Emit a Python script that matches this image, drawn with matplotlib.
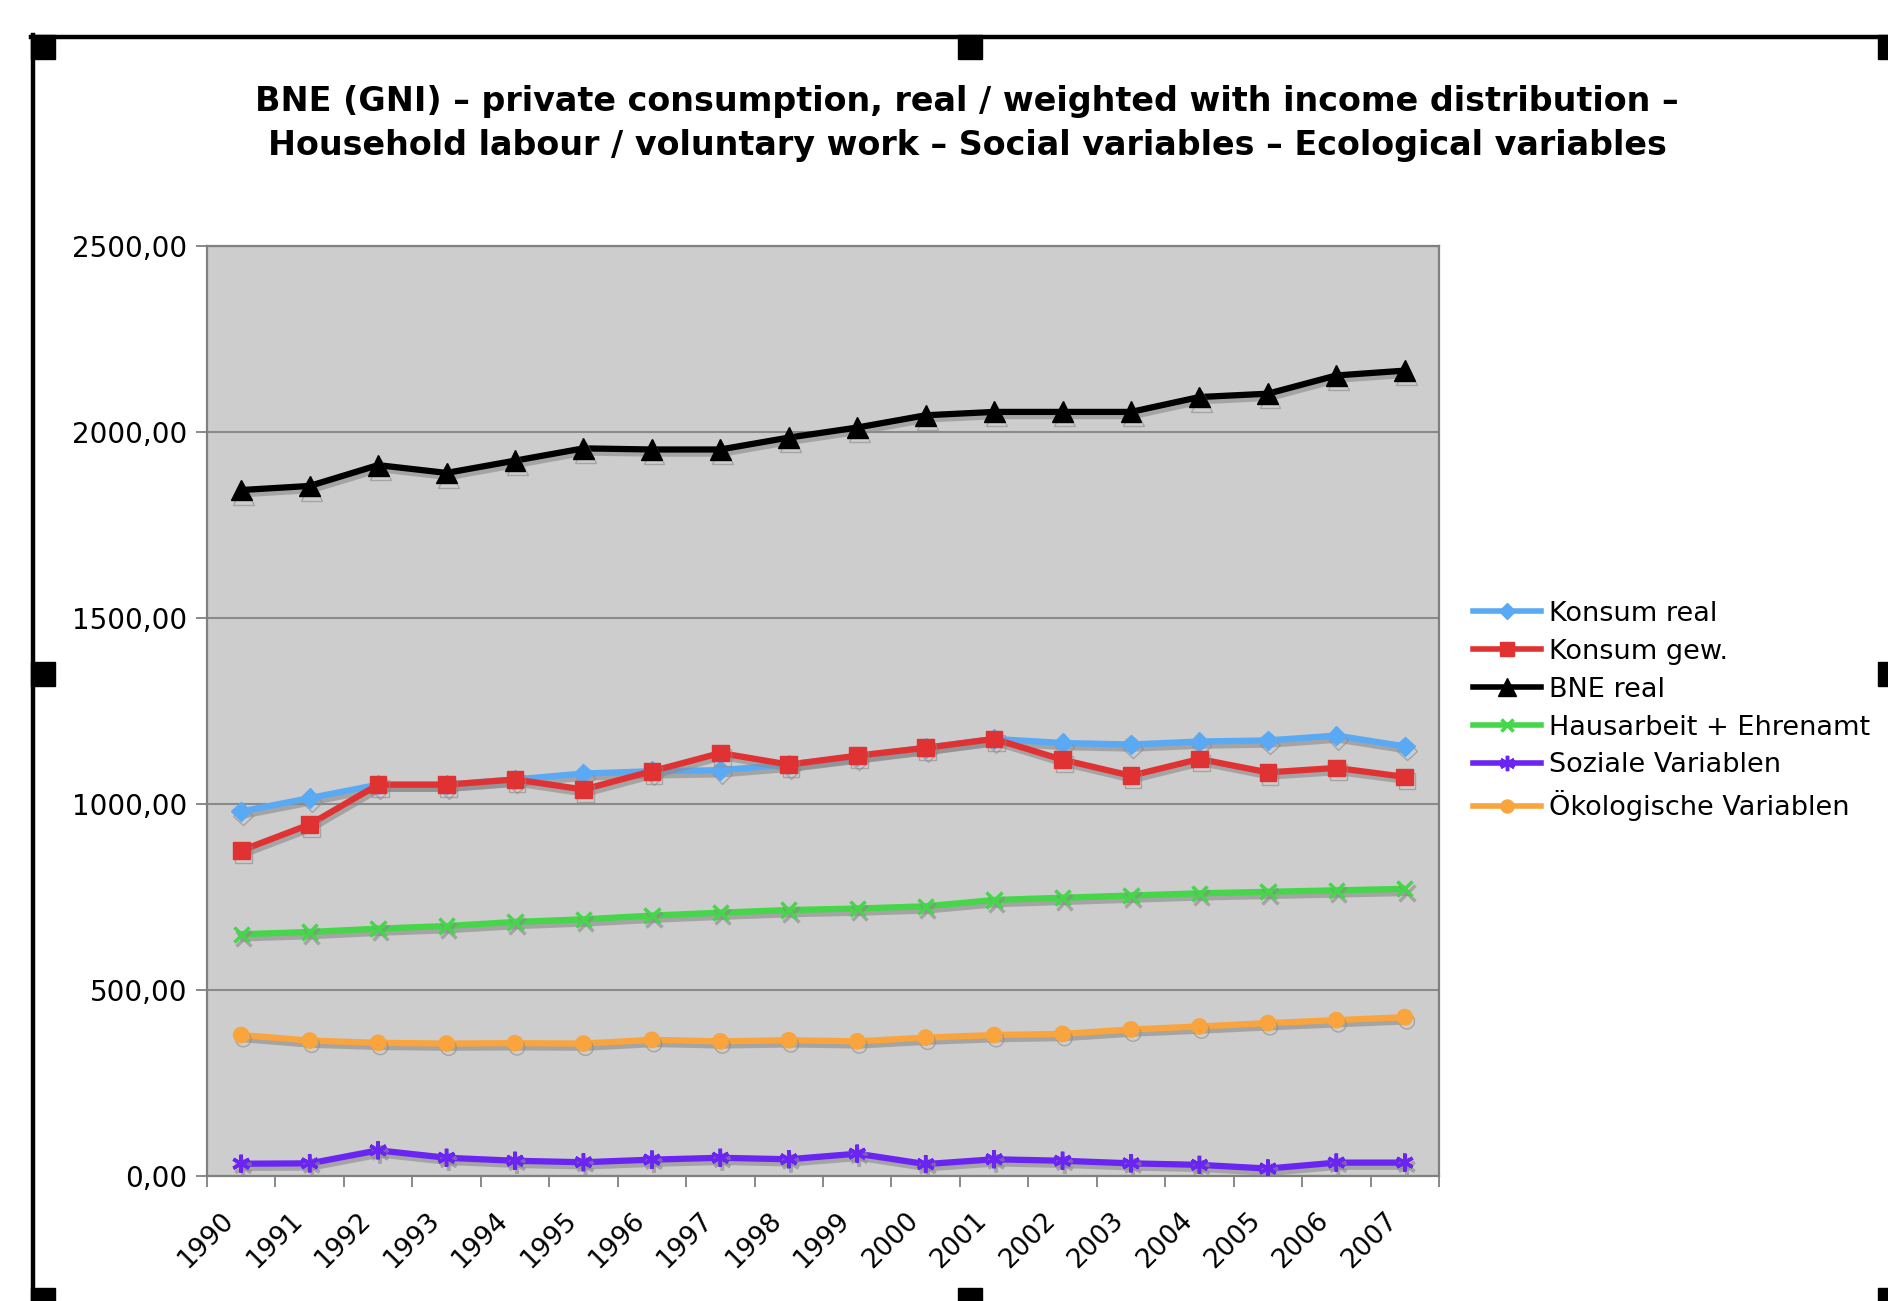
import matplotlib
matplotlib.use("Agg")
import matplotlib.pyplot as plt
import matplotlib.patheffects as pe
from matplotlib.lines import Line2D
from matplotlib.patches import Rectangle
from matplotlib.ticker import FuncFormatter

# data
years = [str(y) for y in range(1990, 2008)]

konsum_real = [980, 1016, 1052, 1052, 1066, 1082, 1088, 1091, 1106, 1128,
               1151, 1175, 1164, 1160, 1168, 1171, 1184, 1155]
konsum_gew = [875, 945, 1052, 1052, 1066, 1039, 1088, 1137, 1106, 1130,
              1151, 1175, 1119, 1076, 1121, 1085, 1097, 1073]
bne_real = [1844, 1855, 1911, 1890, 1923, 1956, 1953, 1953, 1985, 2012,
            2045, 2054, 2054, 2054, 2094, 2103, 2152, 2165]
hausarbeit = [650, 656, 665, 672, 683, 690, 700, 708, 715, 719,
              725, 742, 748, 754, 760, 764, 768, 772]
soziale = [33, 34, 69, 49, 41, 37, 44, 49, 45, 60,
           32, 45, 41, 34, 30, 20, 36, 36]
oekologische = [379, 364, 358, 356, 357, 356, 366, 362, 365, 362,
                372, 379, 382, 394, 402, 411, 419, 427]

series_names = ["Konsum real", "Konsum gew.", "BNE real",
                "Hausarbeit + Ehrenamt", "Soziale Variablen", "Ökologische Variablen"]
series_values = [konsum_real, konsum_gew, bne_real, hausarbeit, soziale, oekologische]
colors = ["#5aa9f4", "#e03232", "#000000", "#45d64a", "#6a25f2", "#f9a43c"]
markers = ["D", "s", "^", "x", (6, 2, 0), "o"]
msizes = [10, 12, 15, 11, 13, 11]

W, H = 1888, 1301
fig = plt.figure(figsize=(W / 100, H / 100), dpi=100)
fig.patch.set_facecolor("white")

ax = fig.add_axes([207 / W, 1 - 1176 / H, (1439 - 207) / W, (1176 - 246) / H])
ax.set_facecolor("#cdcdcd")

x = [i + 0.5 for i in range(len(years))]
shadow = [pe.SimpleLineShadow(offset=(1.5, -3), shadow_color="#8a8a8a", alpha=0.6),
          pe.Normal()]

handles = []
for name, vals, c, m, ms in zip(series_names, series_values, colors, markers, msizes):
    mew = 2.5 if m in ("x", (6, 2, 0)) else 1
    ax.plot(x, vals, color=c, lw=4.5, marker=m, ms=ms, mec=c, mfc=c,
            mew=mew, zorder=3, path_effects=shadow)
    handles.append(Line2D([], [], color=c, lw=4, marker=m, mec=c, mfc=c,
                          ms=ms * 0.85, mew=mew))

ax.set_xlim(0, len(years))
ax.set_ylim(0, 2500)
ax.set_yticks([0, 500, 1000, 1500, 2000, 2500])
ax.yaxis.set_major_formatter(FuncFormatter(lambda v, p: f"{v:.2f}".replace(".", ",")))
ax.grid(axis="y", color="#8a8a8a", lw=1.5)
ax.set_axisbelow(True)

# ticks between categories, labels just left of the centres
ax.set_xticks(range(len(years) + 1))
ax.set_xticklabels([])
ax.set_xticks([p - 0.3 for p in x], minor=True)
ax.set_xticklabels(years, minor=True, rotation=45, ha="right",
                   rotation_mode="anchor", fontsize=19)
ax.tick_params(axis="x", which="major", length=8, width=1.3, color="#808080", direction="out")
ax.tick_params(axis="x", which="minor", length=0, pad=23)
ax.tick_params(axis="y", length=8, width=1.3, color="#808080", labelsize=20, pad=6)
for s in ax.spines.values():
    s.set_color("#808080")
    s.set_linewidth(1.6)

fig.text(967 / W, 1 - 101 / H,
         "BNE (GNI) – private consumption, real / weighted with income distribution –",
         ha="center", va="center", fontsize=24, fontweight="bold")
fig.text(967 / W, 1 - 146 / H,
         "Household labour / voluntary work – Social variables – Ecological variables",
         ha="center", va="center", fontsize=24, fontweight="bold")

fig.legend(handles, series_names, loc="upper left",
           bbox_to_anchor=(1462 / W, 1 - 590 / H), frameon=False, fontsize=19.5,
           handlelength=2.5, handletextpad=0.3, labelspacing=0.44, borderaxespad=0)

# frame of the selected object with its handles
fig.add_artist(Line2D([31 / W, 1], [1 - 37 / H, 1 - 37 / H], color="black", lw=3.2))
fig.add_artist(Line2D([33 / W, 33 / W], [1 - 35 / H, 0], color="black", lw=3.2))
for hx, hy in [(31, 35), (958, 35), (1878, 35), (31, 662), (1878, 662),
               (31, 1288), (958, 1288), (1878, 1288)]:
    fig.add_artist(Rectangle((hx / W, 1 - (hy + 24) / H), 24 / W, 24 / H,
                             transform=fig.transFigure, color="black"))

fig.savefig("out.png", dpi=100)
